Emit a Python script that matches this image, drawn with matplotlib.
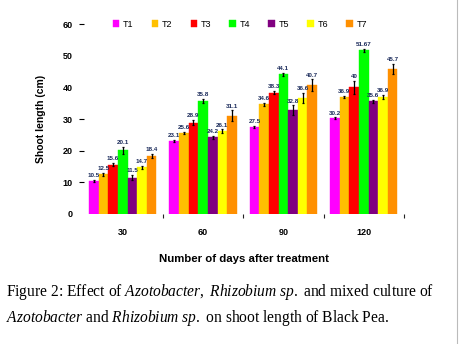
import numpy as np
import matplotlib
matplotlib.use("Agg")
import matplotlib.pyplot as plt

# Data
days = ["30", "60", "90", "120"]
treatments = ["T1", "T2", "T3", "T4", "T5", "T6", "T7"]
t1 = [10.5, 23.1, 27.5, 30.2]
t2 = [12.5, 25.6, 34.6, 36.9]
t3 = [15.6, 28.9, 38.3, 40.0]
t4 = [20.1, 35.8, 44.1, 51.67]
t5 = [11.5, 24.2, 32.8, 35.6]
t6 = [14.7, 26.1, 36.6, 36.9]
t7 = [18.4, 31.1, 40.7, 45.7]
err_t1 = [0.3, 0.3, 0.3, 0.3]
err_t2 = [0.5, 0.4, 0.4, 0.4]
err_t3 = [0.4, 0.9, 0.5, 2.0]
err_t4 = [1.2, 0.6, 0.5, 0.6]
err_t5 = [0.7, 0.5, 1.5, 0.4]
err_t6 = [0.4, 0.6, 1.5, 0.6]
err_t7 = [0.6, 1.6, 1.8, 1.6]

colors = ["#ff00ff", "#ffc000", "#ff0000", "#00ff00", "#800080", "#ffff00", "#ff9000"]

values = [t1, t2, t3, t4, t5, t6, t7]
errors = [err_t1, err_t2, err_t3, err_t4, err_t5, err_t6, err_t7]

plt.rcParams["font.family"] = ["Liberation Sans", "DejaVu Sans"]
plt.rcParams["mathtext.fontset"] = "custom"
plt.rcParams["mathtext.rm"] = "Liberation Serif"
plt.rcParams["mathtext.it"] = "Liberation Serif:italic"

fig = plt.figure(figsize=(4.6, 3.44), dpi=100)
ax = fig.add_axes([0.183, 0.378, 0.695, 0.552])

x = np.arange(len(days))
width = 0.12
offsets = (np.arange(len(treatments)) - 3) * width

for vals, errs, col, name, off in zip(values, errors, colors, treatments, offsets):
    ax.bar(x + off, vals, width, color=col, edgecolor=col, linewidth=0.3,
           label=name, zorder=2)
    ax.errorbar(x + off, vals, yerr=errs, fmt="none", ecolor="black",
                elinewidth=0.9, capsize=1.0, capthick=0.9, zorder=3)
    for xi, v, e in zip(x + off, vals, errs):
        ax.text(xi, v + e + 0.6, f"{v:g}", ha="center", va="bottom",
                fontsize=4.5, color="#1a2a5a", fontweight="bold", zorder=4)

ax.set_xlim(-0.48, 3.48)
ax.set_ylim(0, 60)
ax.set_yticks([0, 10, 20, 30, 40, 50, 60])
ax.set_xticks(x)
ax.set_xticklabels(days)
ax.set_xticks([0.5, 1.5, 2.5, 3.5], minor=True)
ax.tick_params(axis="x", which="major", length=0, pad=10, labelsize=6.5)
ax.tick_params(axis="x", which="minor", length=3, width=0.8, color="#222222")
ax.tick_params(axis="y", length=3.5, width=0.8, pad=5, labelsize=6.5, direction="out")
for lab in ax.get_xticklabels() + ax.get_yticklabels():
    lab.set_fontweight("bold")
for tick in ax.yaxis.get_major_ticks():
    if tick.get_loc() in (0, 40, 50):
        tick.tick1line.set_visible(False)

for s in ax.spines.values():
    s.set_visible(False)

ax.set_ylabel("Shoot length (cm)", fontsize=7.5, fontweight="bold", labelpad=12)
ax.set_xlabel("Number of days after treatment", fontsize=8.2, fontweight="bold",
              labelpad=12)

ax.legend(loc="center left", bbox_to_anchor=(0.075, 1.0), ncol=7, frameon=False,
          fontsize=6.5, handlelength=0.7, handleheight=0.7, handletextpad=0.4,
          columnspacing=2.05, borderpad=0)

cap_font = dict(fontsize=11.2, ha="left", va="center", family="Liberation Serif")
fig.text(0.013, 0.152,
         r"Figure 2: Effect of $\mathit{Azotobacter,\ Rhizobium\ sp.}$ and mixed culture of",
         **cap_font)
fig.text(0.013, 0.076,
         r"$\mathit{Azotobacter}$ and $\mathit{Rhizobium\ sp.}$ on shoot length of Black Pea.",
         **cap_font)
fig.add_artist(plt.Line2D([0.994, 0.994], [0.0, 1.0], color="#bbbbbb", lw=0.8))

fig.savefig("out.png", dpi=100)
